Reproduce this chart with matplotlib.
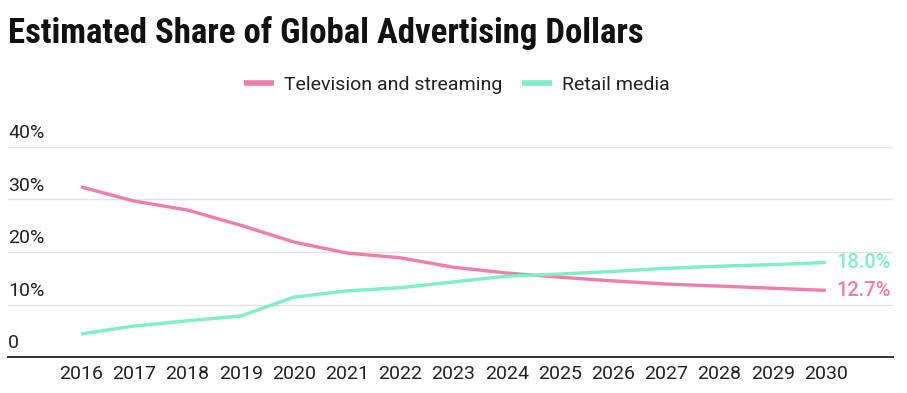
import matplotlib.pyplot as plt
import matplotlib.font_manager as fm

years = list(range(2016, 2031))
tv_share = [32.4, 29.7, 28.0, 25.1, 21.9, 19.8, 18.9, 17.1, 16.0, 15.2, 14.5, 13.9, 13.5, 13.1, 12.7]
retail_share = [4.4, 5.9, 6.9, 7.8, 11.4, 12.6, 13.2, 14.3, 15.4, 15.8, 16.3, 16.9, 17.3, 17.6, 18.0]
series_names = ['Television and streaming', 'Retail media']
y_ticks = [0, 10, 20, 30, 40]
y_labels = ['0', '10%', '20%', '30%', '40%']

pink = '#ef7eaa'
green = '#7eefc6'

W, H = 907, 393
fig = plt.figure(figsize=(W / 100, H / 100), dpi=100)
fig.patch.set_facecolor('white')

# axes placed in pixel units: x from 8 to 893, y from 357 (0) to 147 (40)
ax = fig.add_axes([8 / W, (H - 357) / H, 885 / W, 210 / H])
ax.set_xlim(2014.628, 2031.26)
ax.set_ylim(0, 40)
ax.patch.set_alpha(0)

for t in y_ticks[1:]:
    ax.axhline(t, color='#e2e2e2', lw=1.0, zorder=0)
ax.axhline(0, color='#333333', lw=1.4, zorder=3, clip_on=False)

ax.plot(years, tv_share, color=pink, lw=2.4, solid_capstyle='butt', label=series_names[0], zorder=4)
ax.plot(years, retail_share, color=green, lw=2.4, solid_capstyle='butt', label=series_names[1], zorder=4)

for s in ax.spines.values():
    s.set_visible(False)
ax.set_yticks([])
ax.set_xticks(years)
ax.set_xticklabels([str(y) for y in years], fontsize=14, color='#222222', family='Roboto')
ax.tick_params(axis='x', length=0, pad=6)

# y labels sit above the gridlines at the left edge
for t, lab in zip(y_ticks, y_labels):
    ax.text(0, t + 0.9, lab, transform=ax.get_yaxis_transform(), ha='left', va='bottom',
            fontsize=14, color='#222222', family='Roboto')

# end labels
ax.text(years[-1] + 0.19, retail_share[-1], f'{retail_share[-1]:.1f}%', color=green,
        fontsize=14.5, fontweight='medium', va='center', ha='left', family='Roboto')
ax.text(years[-1] + 0.19, tv_share[-1], f'{tv_share[-1]:.1f}%', color=pink,
        fontsize=14.5, fontweight='medium', va='center', ha='left', family='Roboto')

leg = fig.legend(loc='center', bbox_to_anchor=(457 / W, 1 - 85 / H), ncol=2, frameon=False,
                 prop=fm.FontProperties(family='Roboto', size=14), handlelength=1.55,
                 handletextpad=0.5, columnspacing=1.0)
for h in leg.legend_handles:
    h.set_linewidth(4)
for t in leg.get_texts():
    t.set_color('#222222')

fig.text(8 / W, 1 - 33 / H, 'Estimated Share of Global Advertising Dollars', ha='left', va='center',
         fontsize=25, fontweight='bold', fontstretch='condensed',
         family=['Roboto Condensed', 'DejaVu Sans Condensed', 'Roboto'],
         color='#111111')

fig.savefig('out.png', dpi=100)
